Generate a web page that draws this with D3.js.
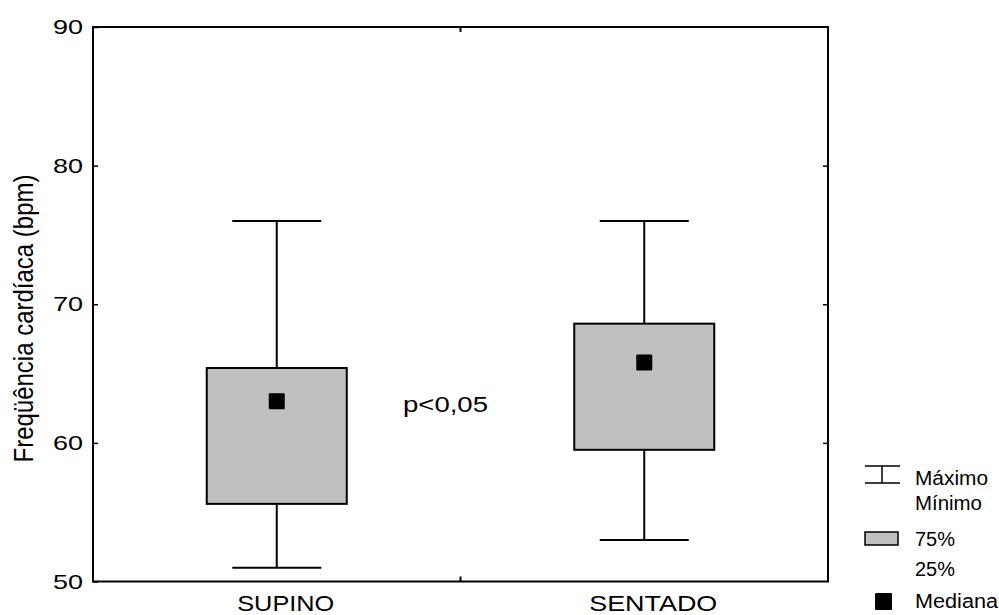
<!DOCTYPE html>
<html>
<head>
<meta charset="utf-8">
<script src="https://cdn.jsdelivr.net/npm/d3@7"></script>
<style>
  body { margin: 0; background: #fff; }
  text { font-family: Arial, "Liberation Sans", sans-serif; }
</style>
</head>
<body>
<script>
// data
let categories = ["SUPINO", "SENTADO"];
let maxima = [76, 76];
let q75 = [65.4, 68.6];
let medians = [63, 65.8];
let q25 = [55.6, 59.5];
let minima = [51, 53];
let yTicks = [50, 60, 70, 80, 90];

let canvasW = 999;
let canvasH = 615;
let plotL = 93, plotR = 828, plotT = 27, plotB = 581.5;

let svg = d3.select("body").append("svg")
  .attr("width", canvasW)
  .attr("height", canvasH);

let y = d3.scaleLinear().domain([50, 90]).range([plotB, plotT]);
let x = d3.scaleBand().domain(categories).range([plotL, plotR]);

let rows = categories.map((c, i) => ({
  cat: c, max: maxima[i], q75: q75[i], med: medians[i], q25: q25[i], min: minima[i]
}));

// frame
svg.append("rect")
  .attr("x", plotL).attr("y", plotT)
  .attr("width", plotR - plotL).attr("height", plotB - plotT)
  .attr("fill", "none").attr("stroke", "#000").attr("stroke-width", 2);

// left axis
let yAxis = svg.append("g")
  .attr("transform", `translate(${plotL},0)`)
  .call(d3.axisLeft(y).tickValues(yTicks).tickSize(-5).tickPadding(10));
yAxis.select(".domain").remove();
yAxis.selectAll("line").attr("stroke-width", 1.5);
yAxis.selectAll("text")
  .attr("font-size", "21px").attr("fill", "#000")
  .attr("textLength", 30).attr("lengthAdjust", "spacingAndGlyphs")
  .style("font-family", "Arial, 'Liberation Sans', sans-serif");

// right axis (no labels)
let yAxisR = svg.append("g")
  .attr("transform", `translate(${plotR},0)`)
  .call(d3.axisRight(y).tickValues(yTicks.slice(1, -1)).tickSize(-5).tickFormat(""));
yAxisR.select(".domain").remove();
yAxisR.selectAll("line").attr("stroke-width", 1.5);

// bottom and top ticks between categories
let mid = x.range()[0] + x.bandwidth();
svg.append("line").attr("x1", mid).attr("x2", mid).attr("y1", plotB).attr("y2", plotB - 5)
  .attr("stroke", "#000").attr("stroke-width", 2);
svg.append("line").attr("x1", mid).attr("x2", mid).attr("y1", plotT).attr("y2", plotT + 5)
  .attr("stroke", "#000").attr("stroke-width", 2);

// category labels (stretched like the original)
let catWidth = { SUPINO: 97, SENTADO: 128 };
svg.selectAll("text.cat")
  .data(categories)
  .join("text")
  .attr("class", "cat")
  .attr("x", d => x(d) + x.bandwidth() / 2 + 9)
  .attr("y", 611)
  .attr("text-anchor", "middle")
  .attr("font-size", "21.5px")
  .attr("textLength", d => catWidth[d])
  .attr("lengthAdjust", "spacingAndGlyphs")
  .text(d => d);

// y title
svg.append("text")
  .attr("transform", "translate(33,318.5) scale(1.18,1) rotate(-90)")
  .attr("text-anchor", "middle")
  .attr("font-size", "24px")
  .text("Freqüência cardíaca (bpm)");

let boxW = 140, capW = 89, medS = 16;

// whiskers
let g = svg.selectAll("g.box")
  .data(rows)
  .join("g")
  .attr("class", "box")
  .attr("transform", d => `translate(${x(d.cat) + x.bandwidth() / 2},0)`);

g.append("line")
  .attr("x1", 0).attr("x2", 0)
  .attr("y1", d => y(d.max)).attr("y2", d => y(d.min))
  .attr("stroke", "#000").attr("stroke-width", 2);
g.append("line")
  .attr("x1", -capW / 2).attr("x2", capW / 2)
  .attr("y1", d => y(d.max)).attr("y2", d => y(d.max))
  .attr("stroke", "#000").attr("stroke-width", 2);
g.append("line")
  .attr("x1", -capW / 2).attr("x2", capW / 2)
  .attr("y1", d => y(d.min)).attr("y2", d => y(d.min))
  .attr("stroke", "#000").attr("stroke-width", 2);

// boxes
g.append("rect")
  .attr("x", -boxW / 2).attr("width", boxW)
  .attr("y", d => y(d.q75)).attr("height", d => y(d.q25) - y(d.q75))
  .attr("fill", "#c0c0c0").attr("stroke", "#000").attr("stroke-width", 2);

// medians
g.append("rect")
  .attr("x", -medS / 2).attr("width", medS)
  .attr("y", d => y(d.med) - medS / 2).attr("height", medS)
  .attr("rx", 1)
  .attr("fill", "#000");

// p-value
svg.append("text")
  .attr("x", 403).attr("y", 412)
  .attr("font-size", "22px")
  .attr("textLength", 85).attr("lengthAdjust", "spacingAndGlyphs")
  .text("p<0,05");

// legend
let lg = svg.append("g").attr("class", "legend");
lg.append("line").attr("x1", 865).attr("x2", 900).attr("y1", 466).attr("y2", 466)
  .attr("stroke", "#000").attr("stroke-width", 1.5);
lg.append("line").attr("x1", 865).attr("x2", 900).attr("y1", 483).attr("y2", 483)
  .attr("stroke", "#000").attr("stroke-width", 1.5);
lg.append("line").attr("x1", 882).attr("x2", 882).attr("y1", 466).attr("y2", 483)
  .attr("stroke", "#000").attr("stroke-width", 1.5);
lg.append("rect").attr("x", 865).attr("y", 532).attr("width", 33).attr("height", 13)
  .attr("fill", "#c0c0c0").attr("stroke", "#000").attr("stroke-width", 1.5);
lg.append("rect").attr("x", 875).attr("y", 593).attr("width", 17).attr("height", 17)
  .attr("rx", 1).attr("fill", "#000");

let legendText = [["Máximo", 485, 73], ["Mínimo", 510, 67], ["75%", 546, 40], ["25%", 576, 40], ["Mediana", 608, 83]];
lg.selectAll("text")
  .data(legendText)
  .join("text")
  .attr("x", 915)
  .attr("y", d => d[1])
  .attr("font-size", "19.5px")
  .attr("textLength", d => d[2])
  .attr("lengthAdjust", "spacingAndGlyphs")
  .text(d => d[0]);
</script>
</body>
</html>
